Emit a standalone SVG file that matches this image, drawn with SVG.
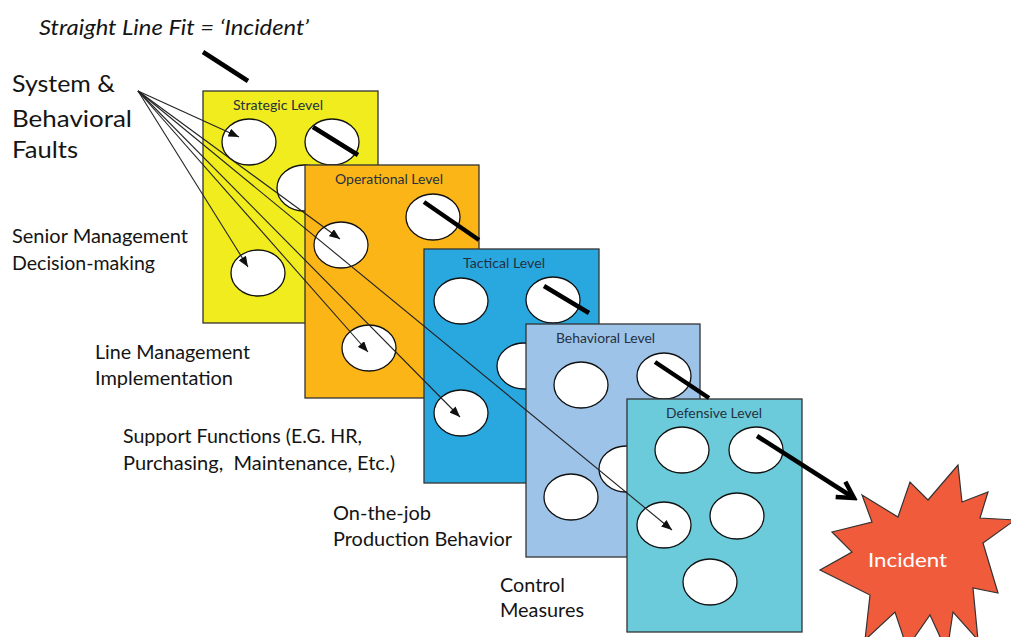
<svg xmlns="http://www.w3.org/2000/svg" width="1011" height="637" viewBox="0 0 1011 637">
<style>
  text { font-family: Lato, "Liberation Sans", sans-serif; fill: #141414; }
  .big { font-size: 22.5px; }
  .lbl { font-size: 19.5px; }
  .ttl { font-size: 13.5px; fill: #26303f; }
  .panel { stroke: #333; stroke-width: 1.3; }
  .hole { fill: #fff; stroke: #111; stroke-width: 1.3; }
  .thin { fill: none; stroke: #222; stroke-width: 1.1; marker-end: url(#tri); }
  .thick { fill: none; stroke: #000; stroke-width: 4.5; stroke-linecap: butt; }
</style>
<defs>
  <marker id="tri" viewBox="0 0 10 8" refX="10" refY="4" markerWidth="11" markerHeight="8.5" markerUnits="userSpaceOnUse" orient="auto">
    <path d="M0,0 L10,4 L0,8 Z" fill="#111"/>
  </marker>
  <marker id="chev" viewBox="0 0 24 24" refX="20" refY="12" markerWidth="24" markerHeight="24" markerUnits="userSpaceOnUse" orient="auto">
    <path d="M4,3 L20,12 L4,21" fill="none" stroke="#000" stroke-width="4.5" stroke-linejoin="miter"/>
  </marker>
</defs>
<rect width="1011" height="637" fill="#fff"/>

<text x="39" y="35" font-style="italic" font-size="21" textLength="270" lengthAdjust="spacingAndGlyphs">Straight Line Fit = ‘Incident’</text>

<g id="label-faults">
  <text x="12" y="92" class="big" textLength="103" lengthAdjust="spacingAndGlyphs">System &amp;</text>
  <text x="12" y="127" class="big" textLength="120" lengthAdjust="spacingAndGlyphs">Behavioral</text>
  <text x="12" y="158" class="big" textLength="66" lengthAdjust="spacingAndGlyphs">Faults</text>
</g>
<g id="label-senior">
  <text x="12" y="243" class="lbl" textLength="176" lengthAdjust="spacingAndGlyphs">Senior Management</text>
  <text x="12" y="270" class="lbl" textLength="143" lengthAdjust="spacingAndGlyphs">Decision-making</text>
</g>
<g id="label-line">
  <text x="95" y="359" class="lbl" textLength="155" lengthAdjust="spacingAndGlyphs">Line Management</text>
  <text x="95" y="385" class="lbl" textLength="138" lengthAdjust="spacingAndGlyphs">Implementation</text>
</g>
<g id="label-support">
  <text x="123" y="443" class="lbl" textLength="239" lengthAdjust="spacingAndGlyphs">Support Functions (E.G. HR,</text>
  <text x="123" y="470" class="lbl" style="white-space:pre" textLength="272" lengthAdjust="spacingAndGlyphs">Purchasing,  Maintenance, Etc.)</text>
</g>
<g id="label-onjob">
  <text x="333" y="520" class="lbl" textLength="98" lengthAdjust="spacingAndGlyphs">On-the-job</text>
  <text x="333" y="546" class="lbl" textLength="179" lengthAdjust="spacingAndGlyphs">Production Behavior</text>
</g>
<g id="label-control">
  <text x="500" y="592" class="lbl" textLength="65" lengthAdjust="spacingAndGlyphs">Control</text>
  <text x="500" y="617" class="lbl" textLength="84" lengthAdjust="spacingAndGlyphs">Measures</text>
</g>

<g id="strategic">
  <rect x="203" y="91" width="175" height="232" fill="#F0EC1E" class="panel"/>
  <text x="233" y="110" class="ttl" textLength="90" lengthAdjust="spacingAndGlyphs">Strategic Level</text>
  <ellipse cx="249" cy="142" rx="27" ry="23" class="hole"/>
  <ellipse cx="332" cy="142" rx="27" ry="23" class="hole"/>
  <ellipse cx="304" cy="188" rx="27" ry="23" class="hole"/>
  <ellipse cx="258" cy="273" rx="27" ry="23" class="hole"/>
</g>
<g id="operational">
  <rect x="305" y="165" width="174" height="233" fill="#FBB516" class="panel"/>
  <text x="335" y="184" class="ttl" textLength="108" lengthAdjust="spacingAndGlyphs">Operational Level</text>
  <ellipse cx="341" cy="245" rx="27" ry="23" class="hole"/>
  <ellipse cx="433" cy="217" rx="27" ry="23" class="hole"/>
  <ellipse cx="369" cy="348" rx="27" ry="23" class="hole"/>
</g>
<g id="tactical">
  <rect x="424" y="249" width="175" height="234" fill="#29A8E0" class="panel"/>
  <text x="463" y="268" class="ttl" textLength="82" lengthAdjust="spacingAndGlyphs">Tactical Level</text>
  <ellipse cx="461" cy="301" rx="27" ry="23" class="hole"/>
  <ellipse cx="553" cy="300" rx="27" ry="23" class="hole"/>
  <ellipse cx="524" cy="366" rx="27" ry="23" class="hole"/>
  <ellipse cx="461" cy="413" rx="27" ry="23" class="hole"/>
</g>
<g id="behavioral">
  <rect x="526" y="324" width="174" height="233" fill="#9DC3E8" class="panel"/>
  <text x="556" y="343" class="ttl" textLength="99" lengthAdjust="spacingAndGlyphs">Behavioral Level</text>
  <ellipse cx="581" cy="385" rx="27" ry="23" class="hole"/>
  <ellipse cx="664" cy="376" rx="27" ry="23" class="hole"/>
  <ellipse cx="626" cy="469" rx="27" ry="23" class="hole"/>
  <ellipse cx="571" cy="497" rx="27" ry="23" class="hole"/>
</g>
<g id="defensive">
  <rect x="627" y="399" width="175" height="233" fill="#6CCBDA" class="panel"/>
  <text x="666" y="418" class="ttl" textLength="96" lengthAdjust="spacingAndGlyphs">Defensive Level</text>
  <ellipse cx="682" cy="450" rx="27" ry="23" class="hole"/>
  <ellipse cx="756" cy="450" rx="27" ry="23" class="hole"/>
  <ellipse cx="737" cy="516" rx="27" ry="23" class="hole"/>
  <ellipse cx="664" cy="525" rx="27" ry="23" class="hole"/>
  <ellipse cx="710" cy="582" rx="27" ry="23" class="hole"/>
</g>

<g id="incident">
  <polygon points="862,495 898,517 910,482 928,500 958,465 962,502 988,492 980,518 1015,520 983,543 998,593 973,588 978,640 953,612 947,652 930,615 907,648 895,612 865,640 870,595 820,570 852,552 832,532 872,522" fill="#EF5B3B" stroke="#333" stroke-width="1.2"/>
  <text x="868" y="567" font-size="20" style="fill:#fff" textLength="79" lengthAdjust="spacingAndGlyphs">Incident</text>
</g>

<g id="connectors">
  <line class="thin" x1="138" y1="91" x2="239" y2="137"/>
  <line class="thin" x1="138" y1="91" x2="248" y2="267"/>
  <line class="thin" x1="138" y1="91" x2="340" y2="239"/>
  <line class="thin" x1="138" y1="91" x2="368" y2="352"/>
  <line class="thin" x1="138" y1="91" x2="460" y2="417"/>
  <line class="thin" x1="138" y1="91" x2="672" y2="530"/>
  <path class="thick" d="M203,52 L248,81 M313,127 L358,155 M424,202 L479,240 M544,286 L589,313 M655,362 L709,398"/>
  <path class="thick" d="M757,436 L854,498" marker-end="url(#chev)"/>
</g>
</svg>
